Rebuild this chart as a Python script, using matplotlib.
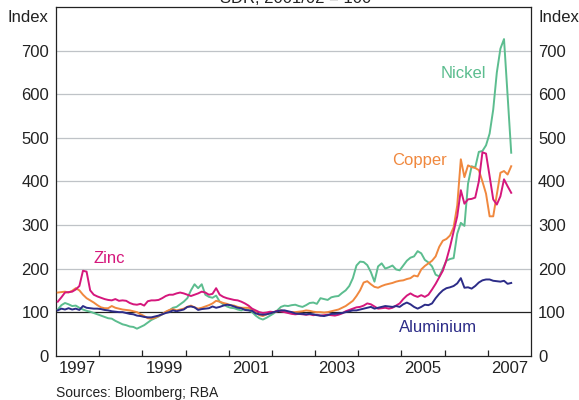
import numpy as np
import matplotlib
matplotlib.use("Agg")
import matplotlib.pyplot as plt

# Monthly commodity price indices, SDR terms, 2001/02 = 100 (Jan 1997 - Jul 2007)
start_year = 1997
nickel = [
    106, 116, 121, 118, 114, 115, 110, 106, 103, 101, 98, 95,
    92, 89, 86, 85, 80, 76, 72, 70, 67, 66, 62, 66,
    70, 76, 82, 86, 90, 95, 100, 104, 110, 112, 118, 124,
    132, 150, 164, 155, 164, 140, 135, 133, 138, 124, 118, 113,
    110, 109, 106, 104, 108, 105, 100, 92, 86, 83, 87, 92,
    97, 104, 112, 115, 114, 116, 117, 114, 112, 116, 121, 122,
    119, 132, 130, 128, 134, 136, 137, 144, 150, 160, 178, 207,
    216, 215, 208, 192, 170, 205, 212, 200, 203, 207, 198, 196,
    207, 218, 225, 228, 240, 235, 220, 214, 205, 186, 182, 200,
    218, 222, 224, 280, 305, 298, 395, 435, 432, 468, 470, 483,
    510, 565, 650, 705, 727, 597, 466,
]
copper = [
    145, 146, 147, 145, 149, 155, 150, 140, 132, 127, 122, 116,
    111, 109, 109, 114, 110, 108, 106, 105, 104, 102, 100, 95,
    91, 86, 85, 87, 91, 95, 101, 105, 107, 104, 106, 108,
    112, 115, 111, 108, 110, 113, 116, 120, 126, 124, 121, 119,
    116, 115, 112, 110, 110, 110, 105, 100, 93, 91, 95, 98,
    100, 102, 104, 102, 100, 100, 100, 101, 102, 104, 103, 101,
    100, 100, 99, 100, 102, 104, 106, 110, 114, 120, 126, 137,
    150, 168, 171, 164, 158, 156, 160, 163, 165, 167, 170, 172,
    173, 176, 178, 184, 182, 198, 206, 212, 218, 228, 250, 264,
    268, 276, 295, 345, 451, 410, 437, 433, 431, 426, 400, 372,
    320, 320, 370, 420, 424, 416, 435,
]
zinc = [
    124, 134, 145, 146, 147, 152, 160, 195, 193, 150, 140, 136,
    133, 130, 128, 127, 130, 126, 127, 126, 121, 118, 117, 119,
    115, 125, 127, 127, 128, 132, 137, 140, 140, 143, 145, 143,
    140, 137, 140, 143, 147, 145, 140, 142, 155, 140, 135, 132,
    130, 128, 127, 124, 120, 115, 108, 104, 100, 98, 99, 101,
    100, 103, 102, 100, 98, 96, 95, 96, 95, 94, 95, 93,
    94, 92, 93, 94, 93, 92, 94, 97, 102, 105, 108, 111,
    112, 115, 120, 118, 113, 108, 109, 110, 108, 110, 115, 120,
    130, 138, 143, 138, 135, 139, 135, 140, 152, 165, 180, 195,
    220, 250, 285, 320, 380, 349, 359, 360, 363, 400, 467, 464,
    412, 359, 347, 366, 405, 389, 374,
]
aluminium = [
    104, 108, 106, 109, 106, 108, 105, 114, 110, 109, 108, 108,
    107, 105, 104, 102, 101, 100, 100, 98, 96, 95, 92, 91,
    89, 88, 88, 90, 92, 95, 98, 100, 104, 102, 104, 106,
    112, 113, 111, 105, 107, 108, 109, 113, 110, 112, 115, 117,
    116, 113, 110, 109, 105, 104, 103, 97, 95, 94, 95, 97,
    100, 102, 104, 104, 102, 100, 97, 96, 96, 95, 96, 95,
    93, 92, 91, 93, 96, 96, 97, 98, 100, 102, 104, 104,
    106, 108, 110, 112, 108, 110, 112, 114, 113, 112, 114, 112,
    118, 122, 118, 112, 108, 112, 117, 116, 120, 132, 142, 150,
    155, 157, 160, 166, 178, 156, 157, 154, 160, 168, 173, 175,
    175, 172, 171, 170, 172, 165, 167,
]

year_labels = ["1997", "1999", "2001", "2003", "2005", "2007"]
y_ticks = [0, 100, 200, 300, 400, 500, 600, 700]

colors = {
    "Nickel": "#5cbd8f",
    "Copper": "#f0883e",
    "Zinc": "#d5177c",
    "Aluminium": "#2c2c88",
}

plt.rcParams["font.family"] = ["Liberation Sans", "DejaVu Sans"]

fig = plt.figure(figsize=(5.79, 4.0), dpi=100)
ax = fig.add_axes([0.0967, 0.1108, 0.8204, 0.871])

# mid-month positions in decimal years
n = len(nickel)
x = start_year + (np.arange(n) + 0.5) / 12.0

# grid lines
for v in y_ticks[2:]:
    ax.axhline(v, color="#bfc3c7", lw=0.9, zorder=1)
ax.axhline(100, color="#222222", lw=0.9, zorder=1)

series = [("Nickel", nickel), ("Copper", copper), ("Zinc", zinc), ("Aluminium", aluminium)]
for name, vals in series:
    ax.plot(x, vals, color=colors[name], lw=1.4, zorder=3)

ax.set_xlim(1997, 2008)
ax.set_ylim(0, 800)

# year ticks at boundaries, labels at mid-year
ax.set_xticks(np.arange(1998, 2008))
ax.set_xticklabels([])
ax.tick_params(axis="x", which="major", direction="in", length=4, width=0.9, color="#222222")
ax.set_xticks([int(s) + 0.5 for s in year_labels], minor=True)
ax.set_xticklabels(year_labels, minor=True)
ax.tick_params(axis="x", which="minor", length=0, pad=4, labelsize=12, labelcolor="#222222")

ax.set_yticks(y_ticks)
ax.set_yticklabels([str(v) for v in y_ticks])
ax.tick_params(axis="y", length=0, pad=5, labelsize=12, labelcolor="#222222",
               left=False, right=False, labelleft=True, labelright=True)

for sp in ax.spines.values():
    sp.set_color("#222222")
    sp.set_linewidth(0.9)

# axis unit labels
ax.text(-0.015, 776, "Index", transform=ax.get_yaxis_transform(), ha="right", va="center",
        fontsize=12, color="#222222")
ax.text(1.015, 776, "Index", transform=ax.get_yaxis_transform(), ha="left", va="center",
        fontsize=12, color="#222222")

# series labels
ax.text(2006.43, 649, "Nickel", color=colors["Nickel"], fontsize=12, ha="center", va="center")
ax.text(2005.42, 448, "Copper", color=colors["Copper"], fontsize=12, ha="center", va="center")
ax.text(1998.23, 224, "Zinc", color=colors["Zinc"], fontsize=12, ha="center", va="center")
ax.text(2005.85, 65, "Aluminium", color=colors["Aluminium"], fontsize=12, ha="center", va="center")

# subtitle (cut off at top in the original)
fig.text(0.51, 0.992, "SDR, 2001/02 = 100", ha="center", va="baseline", fontsize=12, color="#222222")

fig.text(0.0967, 0.018, "Sources: Bloomberg; RBA", ha="left", va="center", fontsize=10, color="#222222")

fig.savefig("out.png", dpi=100)
